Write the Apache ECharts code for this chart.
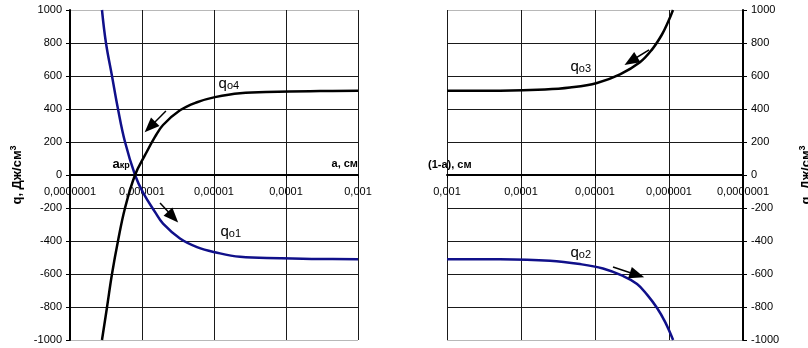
<!DOCTYPE html>
<html>
<head>
<meta charset="utf-8">
<script src="https://cdn.jsdelivr.net/npm/echarts@6/dist/echarts.min.js"></script>
<style>html,body{margin:0;padding:0;background:#fff}#c{width:808px;height:348px}</style>
</head>
<body>
<div id="c"></div>
<script>
// ---- data ----
const xTickLabels = ['0,0000001', '0,000001', '0,00001', '0,0001', '0,001'];
const yMin = -1000, yMax = 1000, yStep = 200;

// left panel: a, cm
const q4A = [2.78e-7, 3.27e-7, 3.83e-7, 4.64e-7, 5.81e-7, 8.0e-7, 1.10e-6, 1.52e-6, 1.96e-6, 3.37e-6, 5.81e-6, 1.03e-5, 2.30e-5, 7.74e-5, 2.97e-4, 1e-3];
const q4  = [-1000, -800, -600, -400, -200, 0, 120, 232, 303, 392, 441, 472, 496, 504, 509, 510];
const q1A = [2.78e-7, 3.16e-7, 3.83e-7, 4.64e-7, 5.81e-7, 8.0e-7, 1.03e-6, 1.52e-6, 1.96e-6, 3.37e-6, 5.81e-6, 1.03e-5, 2.30e-5, 8.26e-5, 2.97e-4, 1e-3];
const q1  = [1000, 800, 600, 400, 200, 0, -105, -225, -295, -385, -437, -468, -496, -504, -509, -510];

// right panel: (1-a), cm
const q3B = [1e-3, 1.92e-4, 4.74e-5, 2.18e-5, 9.4e-6, 4.59e-6, 2.47e-6, 1.70e-6, 1.25e-6, 1.03e-6, 8.83e-7];
const q3  = [510, 511, 518, 530, 558, 610, 683, 760, 850, 927, 1000];
const q2B = [1e-3, 1.92e-4, 4.06e-5, 1.60e-5, 7.8e-6, 4.19e-6, 2.70e-6, 1.98e-6, 1.45e-6, 1.13e-6, 8.8e-7];
const q2  = [-510, -511, -520, -540, -567, -612, -660, -725, -806, -890, -1000];

// annotations (data space)
const arrowQ4 = [[2.15e-6, 388], [1.29e-6, 291]];
const arrowQ1 = [[1.78e-6, -170], [2.70e-6, -255]];
const arrowQ3 = [[1.86e-6, 758], [3.27e-6, 691]];
const arrowQ2 = [[5.71e-6, -558], [2.70e-6, -606]];
const labQ4 = [1.14e-5, 552], labQ1 = [1.21e-5, -345], labQ3 = [2.18e-5, 655], labQ2 = [2.18e-5, -473], labAkr = [3.83e-7, 67];

// ---- chart ----
const FONT = "'Liberation Sans', Arial, sans-serif";
const pair = (xs, ys) => xs.map((x, i) => [x, ys[i]]);
const nGrid = Math.round((yMax - yMin) / yStep) + 1;
const hColors = Array.from({length: nGrid}, (_, i) => (i === 0 || i === nGrid - 1) ? '#b8b8b8' : '#1a1a1a');
const fmtX = v => xTickLabels[Math.round(Math.log10(v)) + 7] || '';

const subRich = {
  q: {fontFamily: FONT, fontSize: 15, lineHeight: 15, verticalAlign: 'top', color: '#000', padding: [0, 0, 4, 0]},
  s: {fontFamily: FONT, fontSize: 11, lineHeight: 11, verticalAlign: 'bottom', color: '#000'}
};
const akrRich = {
  q: {fontFamily: FONT, fontSize: 13, fontWeight: 'bold', lineHeight: 13, verticalAlign: 'top', color: '#000', padding: [0, 0, 3, 0]},
  s: {fontFamily: FONT, fontSize: 9, fontWeight: 'bold', lineHeight: 9, verticalAlign: 'bottom', color: '#000'}
};
function labelPoint(coord, text, rich) {
  return {
    coord: coord, symbol: 'rect', symbolSize: 1, itemStyle: {color: 'rgba(0,0,0,0)'},
    label: {show: true, position: 'right', distance: 0, formatter: text, rich: rich}
  };
}
function arrowLine(a) {
  return {
    silent: true, symbol: ['none', 'triangle'], symbolSize: [12, 15],
    lineStyle: {color: '#000', width: 1.5, type: 'solid'}, label: {show: false},
    emphasis: {disabled: true},
    data: [[{coord: a[0]}, {coord: a[1]}]]
  };
}
const yNameRich = {
  b: {fontFamily: FONT, fontSize: 13, fontWeight: 'bold', lineHeight: 15, verticalAlign: 'bottom', color: '#000'},
  sup: {fontFamily: FONT, fontSize: 9, fontWeight: 'bold', lineHeight: 9, verticalAlign: 'top', color: '#000'}
};

function xAxisCfg(idx, inverse, name, nameStyle, nameGap, vColors) {
  return {
    type: 'log', logBase: 10, gridIndex: idx, min: 1e-7, max: 1e-3, inverse: inverse,
    position: 'bottom', offset: -165,
    axisLine: {show: true, onZero: false, lineStyle: {color: '#000', width: 2}},
    axisTick: {show: true, length: 3, lineStyle: {color: '#000', width: 1}},
    axisLabel: {show: true, formatter: fmtX, margin: 11, color: '#000', fontFamily: FONT, fontSize: 11, showMinLabel: true, showMaxLabel: true},
    splitLine: {show: true, lineStyle: {color: vColors, width: 1}},
    name: name, nameLocation: 'end', nameGap: nameGap, nameTextStyle: nameStyle
  };
}
function yAxisCfg(idx, pos, nameGap) {
  return {
    type: 'value', gridIndex: idx, position: pos, min: yMin, max: yMax, interval: yStep,
    axisLine: {show: true, onZero: false, lineStyle: {color: '#000', width: 2}},
    axisTick: {show: true, length: 4, inside: false, lineStyle: {color: '#000', width: 1}},
    axisLabel: {show: true, margin: 8, color: '#000', fontFamily: FONT, fontSize: 11, formatter: v => String(v)},
    splitLine: {show: true, lineStyle: {color: hColors, width: 1}},
    name: '{b|q, Дж/см}{sup|3}', nameLocation: 'middle', nameGap: nameGap, nameRotate: 90,
    nameTextStyle: {rich: yNameRich}
  };
}

const chart = echarts.init(document.getElementById('c'), null, {renderer: 'canvas'});
chart.setOption({
  animation: false,
  backgroundColor: '#fff',
  grid: [
    {left: 70, top: 10, width: 288, height: 330, containLabel: false, outerBoundsMode: 'none'},
    {left: 447, top: 10, width: 296, height: 330, containLabel: false, outerBoundsMode: 'none'}
  ],
  xAxis: [
    xAxisCfg(0, false, 'а, см', {fontFamily: FONT, fontSize: 11, fontWeight: 'bold', color: '#000', align: 'right', verticalAlign: 'bottom', padding: [0, 0, 6, 0]}, 0,
      ['#1a1a1a', '#1a1a1a', '#1a1a1a', '#1a1a1a', '#1a1a1a']),
    xAxisCfg(1, true, '(1-а), см', {fontFamily: FONT, fontSize: 11, fontWeight: 'bold', color: '#000', align: 'left', verticalAlign: 'bottom', padding: [0, 0, 5, 0]}, 19,
      ['#1a1a1a', '#1a1a1a', '#1a1a1a', '#1a1a1a', '#b8b8b8'])
  ],
  yAxis: [yAxisCfg(0, 'left', 46), yAxisCfg(1, 'right', 55)],
  series: [
    {type: 'line', xAxisIndex: 0, yAxisIndex: 0, data: pair(q1A, q1), smooth: 0.4, showSymbol: false,
      lineStyle: {color: '#10108a', width: 2.5}, z: 3,
      markLine: arrowLine(arrowQ1),
      markPoint: {silent: true, data: [labelPoint(labQ1, '{q|q}{s|o1}', subRich)]}},
    {type: 'line', xAxisIndex: 0, yAxisIndex: 0, data: pair(q4A, q4), smooth: 0.4, showSymbol: false,
      lineStyle: {color: '#000', width: 2.5}, z: 4,
      markLine: arrowLine(arrowQ4),
      markPoint: {silent: true, data: [labelPoint(labQ4, '{q|q}{s|o4}', subRich), labelPoint(labAkr, '{q|а}{s|кр}', akrRich)]}},
    {type: 'line', xAxisIndex: 1, yAxisIndex: 1, data: pair(q3B, q3), smooth: 0.4, showSymbol: false,
      lineStyle: {color: '#000', width: 2.5}, z: 4,
      markLine: arrowLine(arrowQ3),
      markPoint: {silent: true, data: [labelPoint(labQ3, '{q|q}{s|o3}', subRich)]}},
    {type: 'line', xAxisIndex: 1, yAxisIndex: 1, data: pair(q2B, q2), smooth: 0.4, showSymbol: false,
      lineStyle: {color: '#10108a', width: 2.5}, z: 3,
      markLine: arrowLine(arrowQ2),
      markPoint: {silent: true, data: [labelPoint(labQ2, '{q|q}{s|o2}', subRich)]}}
  ]
});
</script>
</body>
</html>
